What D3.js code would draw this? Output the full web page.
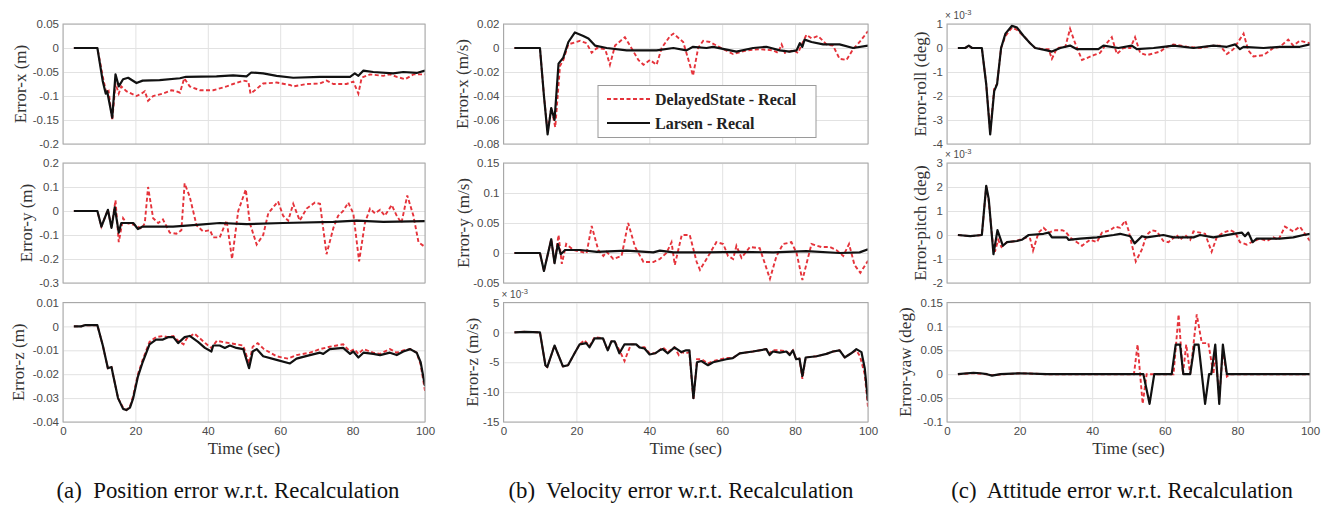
<!DOCTYPE html>
<html>
<head>
<meta charset="utf-8">
<script src="https://cdn.jsdelivr.net/npm/d3@7"></script>
<style>
  body { margin: 0; background: #fff; }
  svg { display: block; }
</style>
</head>
<body>
<svg id="chart" width="1327" height="505"></svg>
<script>
// ---- data: [time (sec), error] ----
const timeTicks = [0, 20, 40, 60, 80, 100];

// (a) position error (m)
const posXDelayed = [[3,0],[9.5,0],[11,-0.06],[12,-0.095],[12.6,-0.09],[13.6,-0.151],[14.5,-0.074],[15.4,-0.095],[16.1,-0.08],[17.5,-0.09],[20.3,-0.1],[21.7,-0.095],[22.6,-0.09],[23.5,-0.11],[24.9,-0.1],[27.6,-0.095],[30,-0.088],[31.3,-0.09],[32.3,-0.093],[33.5,-0.063],[35,-0.08],[37.8,-0.088],[41.5,-0.088],[45.2,-0.08],[47,-0.075],[49.8,-0.068],[51.2,-0.07],[51.8,-0.095],[53.5,-0.085],[55.3,-0.074],[59,-0.072],[62.7,-0.077],[63.6,-0.08],[67.3,-0.075],[71,-0.074],[72.8,-0.068],[74.7,-0.075],[78.3,-0.075],[80.2,-0.07],[81.6,-0.095],[82.5,-0.062],[84.8,-0.055],[88.5,-0.058],[90.3,-0.055],[92.2,-0.06],[94.5,-0.065],[96.8,-0.055],[100,-0.055]];
const posXLarsen = [[3,0],[9.5,0],[11,-0.07],[11.8,-0.095],[12.2,-0.09],[13.6,-0.145],[14.5,-0.055],[15.4,-0.08],[16.6,-0.065],[18,-0.062],[20.3,-0.073],[22,-0.068],[26.7,-0.067],[32.3,-0.063],[34,-0.06],[42.4,-0.059],[47,-0.057],[50.7,-0.059],[52,-0.051],[55.3,-0.053],[59,-0.058],[63.6,-0.062],[71,-0.06],[79.3,-0.06],[80.6,-0.053],[81.6,-0.058],[83,-0.047],[85.7,-0.05],[91.2,-0.053],[94,-0.05],[97.7,-0.052],[100,-0.047]];
const posYDelayed = [[3,0],[9.5,0],[10.6,-0.065],[12.4,0.005],[13.4,-0.07],[14.5,0.045],[15.4,-0.13],[16.6,-0.03],[17.5,-0.05],[20.3,-0.06],[21.7,-0.075],[22.6,-0.05],[23.5,0.1],[24.9,-0.03],[26.3,-0.05],[27.6,-0.035],[29.5,-0.09],[31.3,-0.095],[32.7,-0.08],[33.6,0.115],[35,0.06],[36.9,-0.06],[38.7,-0.085],[40.6,-0.08],[41.5,-0.11],[43.3,-0.11],[45.2,-0.04],[46.7,-0.2],[48.4,0],[50.5,0.09],[51.6,-0.05],[53.5,-0.14],[55.3,-0.1],[56.7,-0.01],[59.4,0.04],[60.8,-0.02],[62.2,-0.04],[63.6,0.03],[65.4,-0.04],[67.3,0.01],[69.6,0.035],[71,0.03],[72.8,-0.18],[74.7,-0.07],[76,-0.02],[77.4,0],[78.8,0.035],[80.2,-0.01],[81.8,-0.21],[83.4,-0.05],[84.8,0.01],[86.2,-0.01],[87.6,0.005],[88.9,-0.02],[90.8,0.025],[92.2,-0.02],[93.5,-0.05],[95.1,0.065],[96.8,-0.02],[98.2,-0.13],[100,-0.15]];
const posYLarsen = [[3,0],[9.5,0],[10.6,-0.065],[12.4,0.005],[13.4,-0.07],[14.3,0.015],[15.4,-0.09],[16.1,-0.05],[19.4,-0.05],[20.7,-0.075],[22,-0.065],[30.4,-0.065],[37.8,-0.057],[43.3,-0.05],[50.7,-0.055],[60.8,-0.05],[74.7,-0.045],[81.1,-0.04],[88.5,-0.045],[100,-0.042]];
const posZDelayed = [[3,0],[5,0],[6,0.0005],[9.5,0.0005],[11,-0.008],[12.4,-0.0175],[13.4,-0.017],[13.8,-0.02],[15.2,-0.03],[16.6,-0.034],[17.5,-0.035],[18.5,-0.0335],[19.4,-0.029],[20.7,-0.02],[22,-0.014],[23.9,-0.0065],[25.7,-0.0045],[27.6,-0.004],[29,-0.0045],[30.5,-0.004],[31.8,-0.006],[33.3,-0.0075],[34.2,-0.005],[36.3,-0.003],[37.8,-0.005],[39.7,-0.0075],[41,-0.009],[42.5,-0.006],[44,-0.0065],[46.1,-0.007],[47.9,-0.0075],[49.8,-0.008],[51.4,-0.0155],[52.4,-0.0085],[53.8,-0.007],[55.5,-0.0095],[59,-0.0125],[62.2,-0.0135],[64.5,-0.012],[68.2,-0.011],[71,-0.0095],[73.7,-0.0085],[77.4,-0.0075],[79.3,-0.0105],[80.5,-0.0095],[81.6,-0.0115],[83,-0.0095],[85.7,-0.011],[87.6,-0.0115],[90.3,-0.0095],[92.2,-0.011],[94,-0.01],[95.9,-0.0095],[97.7,-0.011],[98.8,-0.016],[100,-0.027]];
const posZLarsen = [[3,0],[5,0],[6,0.0005],[9.5,0.0005],[11,-0.008],[12.4,-0.0175],[13.4,-0.017],[13.8,-0.02],[15.2,-0.03],[16.6,-0.0345],[17.5,-0.035],[18.5,-0.034],[19.4,-0.03],[20.7,-0.021],[22,-0.015],[23.9,-0.0075],[25.7,-0.0055],[27.6,-0.0055],[29,-0.0045],[30.5,-0.0045],[31.8,-0.007],[33.6,-0.0045],[35,-0.004],[37.3,-0.0065],[39.2,-0.009],[41,-0.0105],[41.5,-0.008],[43.3,-0.008],[44.7,-0.009],[46.1,-0.008],[47.9,-0.009],[49.8,-0.0095],[51.4,-0.0175],[52.4,-0.0105],[53.5,-0.0095],[55.3,-0.0125],[59,-0.014],[62.7,-0.0155],[64.5,-0.0135],[68.2,-0.012],[71,-0.011],[71.9,-0.0115],[73.7,-0.0095],[77.4,-0.009],[79.3,-0.0115],[80.2,-0.0105],[81.6,-0.013],[83,-0.011],[85.7,-0.0115],[87.6,-0.012],[90.3,-0.011],[92.2,-0.012],[94,-0.0105],[95.9,-0.0095],[97.7,-0.011],[98.8,-0.015],[100,-0.025]];

// (b) velocity error (m/s); z in units of 1e-3 m/s
const velXDelayed = [[3,0],[10,0],[11.1,-0.04],[12.1,-0.07],[13.1,-0.05],[14.2,-0.066],[15.5,-0.015],[16.4,-0.01],[17.8,0.003],[21,0.006],[22.8,0.004],[24.2,-0.004],[25.6,0],[27.9,-0.001],[29.2,-0.014],[30.6,0.002],[33.3,0.009],[34.7,0.002],[37,-0.01],[38.4,-0.014],[40.2,-0.01],[42,-0.014],[43.4,0],[45.7,0.01],[46.6,0.012],[49.3,0.005],[52,-0.023],[53.4,0],[54.8,0.006],[56.6,0.005],[60.3,-0.001],[63,-0.005],[66.7,-0.002],[70.3,-0.001],[74,-0.002],[75.3,-0.004],[76.3,0.003],[77.2,-0.004],[79.5,-0.002],[80.8,-0.004],[81.7,0.002],[83.1,0.011],[84.5,0.008],[86.3,0.01],[88.6,0.003],[90.4,0.002],[92.2,-0.009],[94.1,-0.01],[95.9,-0.001],[97.7,0.005],[100,0.014]];
const velXLarsen = [[3,0],[10,0],[11.1,-0.04],[12.1,-0.072],[13.1,-0.05],[14,-0.06],[15.1,-0.013],[16.4,-0.008],[17.8,0.005],[19.6,0.013],[21.9,0.01],[23.3,0.008],[25.1,0.002],[28.3,0],[33.8,-0.002],[42,-0.002],[46.6,0],[50.2,-0.002],[52,0.001],[55.7,0],[57.5,0.001],[63.9,-0.003],[68.5,0],[72.1,0.001],[75.8,-0.002],[78.5,-0.003],[80.4,-0.002],[81.3,0.004],[82,0.001],[82.6,0.007],[84.5,0.005],[87.7,0.003],[92.2,0.003],[95.9,0],[100,0.002]];
const velYDelayed = [[3,0],[10,0],[11.1,-0.03],[13.1,0.023],[14,-0.017],[15.1,0.03],[16,-0.018],[17.2,0.015],[19.2,0.005],[22.8,0],[24.2,0.045],[26,0.005],[27.4,-0.005],[28.3,0.002],[30.1,-0.01],[32.4,-0.005],[34.2,0.05],[36.1,0.01],[38.4,-0.015],[41.1,-0.015],[42.9,-0.01],[44.7,0],[46.1,0.018],[47,-0.02],[48.9,0.03],[51.1,0.03],[53,-0.015],[53.9,-0.028],[55.7,-0.01],[58.4,0.018],[60.3,0.015],[61.6,-0.005],[63,-0.01],[63.9,0.012],[65.3,-0.008],[67.6,0.01],[70.3,0.008],[73.1,-0.043],[74.9,-0.005],[76.7,0.015],[79,0.018],[80.4,0],[82,-0.045],[84.5,0.015],[87.2,0.01],[89.5,0.01],[91.3,0.005],[93.2,-0.005],[94.8,0.015],[96.3,-0.02],[97.9,-0.033],[100,-0.013]];
const velYLarsen = [[3,0],[10,0],[11.1,-0.03],[13.1,0.023],[14,-0.017],[14.9,0.015],[15.7,-0.002],[16.9,0.005],[21,0.005],[25.6,0.002],[33.8,0.004],[41.1,0.001],[42.9,0.004],[46.6,0.001],[55.7,0.001],[64.8,0.002],[74,0.001],[83.1,0.003],[92.2,0],[97.7,0.001],[100,0.006]];
const velZDelayed = [[3,0],[6,0.1],[10,0],[11.5,-5.5],[12,-5.8],[14,-2.2],[16.3,-5.7],[17.7,-5.5],[19.5,-3.5],[20.9,-2],[22.2,-1.3],[23.6,-2.3],[25,-0.8],[27.3,-1],[28.6,-3],[29.6,-1.5],[30.5,-1.5],[31.8,-3],[33.2,-4.8],[34,-3.5],[35,-2],[36.4,-2],[37.3,-2.5],[38.7,-2.5],[40.1,-3.5],[41.6,-3.5],[42.8,-3],[43.7,-2.5],[45.1,-3.3],[46.9,-2.5],[48.1,-3.8],[48.8,-3.3],[50.1,-3.5],[51,-3.3],[52.1,-11.3],[53.1,-4.5],[54.3,-4.5],[56.1,-5.2],[57.5,-4.8],[61.1,-4.3],[62.9,-4.3],[64.8,-3.5],[68.4,-3.2],[72.1,-2.8],[73,-3.5],[73.9,-3],[75.8,-3],[77.6,-3.2],[78.5,-3.6],[79.4,-3],[80.3,-4.5],[81.2,-4.4],[82,-7.8],[82.9,-4.2],[85.9,-4],[88.6,-3.6],[90.4,-3.2],[92.2,-3],[93.6,-4.2],[95.4,-3.5],[96.8,-3],[97.8,-4],[99.1,-7],[100,-12.5]];
const velZLarsen = [[3,0],[6,0.1],[10,0],[11.5,-5.5],[12,-5.8],[14,-2.2],[16.3,-5.7],[17.7,-5.5],[19.5,-3.5],[20.9,-2],[22.7,-1.8],[23.6,-2.5],[25,-1],[27.3,-1],[28.6,-3],[29.6,-1.5],[30.5,-1.5],[31.8,-3.5],[33.2,-2],[36.4,-2],[37.3,-2.5],[38.7,-2.7],[40.1,-3.7],[41.6,-3.5],[42.8,-3],[43.7,-2.8],[45.1,-3.5],[46.9,-2.5],[48.8,-3.3],[50.1,-3],[51,-3],[52.1,-11],[53.1,-5],[54.3,-4.8],[56.1,-5.5],[57.5,-5],[61.1,-4.5],[62.9,-4.3],[64.8,-3.5],[68.4,-3.2],[72.1,-2.8],[73,-3.8],[73.9,-3.2],[75.8,-3.4],[77.6,-3.2],[78.5,-3.8],[79.4,-3],[80.3,-4.5],[81.2,-4.4],[82,-7.3],[82.9,-4.2],[85.9,-4],[88.6,-3.6],[90.4,-3.2],[92.2,-3],[93.6,-4.2],[95.4,-3.5],[96.8,-2.8],[98.2,-3.3],[99.1,-6],[100,-11.5]];

// (c) attitude error (deg); roll and pitch in units of 1e-3 deg
const rollDelayed = [[3,0],[5,0],[6,0.1],[6.9,0],[9.6,0],[10.8,-1.5],[11.9,-3.5],[13,-1.7],[13.8,-1.5],[14.9,0],[16.1,0.5],[17.9,0.85],[19.3,0.75],[21.1,0.5],[22.9,0.2],[24.3,0],[26.6,-0.05],[28,-0.05],[28.9,-0.45],[30.3,0],[32.6,0.05],[33.9,0.8],[35.3,0.2],[37.2,-0.5],[40.4,-0.3],[42.2,-0.2],[44,0.2],[45.4,0.45],[46.8,-0.25],[48.6,0],[50.5,0],[51.8,0.45],[53.2,-0.2],[55,-0.3],[58.7,-0.15],[60.6,0.05],[62.4,0.15],[66.1,0.05],[69.7,0],[73.4,0.1],[75.2,0.1],[77.1,-0.25],[78.9,-0.05],[81.7,0.6],[83,-0.1],[84.4,-0.35],[87.2,-0.3],[89.9,0],[91.7,0.05],[94,0.35],[95.4,0.1],[97.2,0.3],[100,0.2]];
const rollLarsen = [[3,0],[5,0],[6,0.1],[6.9,0],[9.6,0],[10.8,-1.5],[11.9,-3.6],[13,-1.8],[13.8,-1.5],[14.9,0],[16.1,0.6],[17.9,0.93],[19.3,0.85],[21.1,0.5],[22.9,0.2],[24.3,0],[27.5,-0.1],[28.9,-0.15],[31.2,0],[33.9,0.1],[35.8,-0.05],[41.7,-0.05],[43.1,0.1],[47.2,0],[50.9,0.1],[52.3,-0.05],[56.9,0],[59.6,0.05],[62.4,0.1],[67.9,0],[73.4,0.1],[77.1,0.05],[79.4,0.15],[80.7,-0.05],[81.7,0.05],[87.2,0],[91.7,0.05],[97.2,0.05],[100,0.15]];
const pitchDelayed = [[3,0],[6.4,-0.05],[9.6,0],[10.8,2],[11.5,1.4],[12.5,-0.2],[13.2,-0.7],[14.1,-0.2],[15,-0.5],[16.5,-0.3],[19,-0.25],[22,-0.1],[22.9,-0.15],[23.7,-0.65],[25.2,0.1],[26.6,0.3],[28,0.1],[29.8,0.2],[31.7,0.2],[32.6,0.15],[33.9,-0.1],[35.8,-0.3],[37.2,-0.45],[39.4,-0.2],[41.3,-0.3],[42.7,0.1],[45,0.2],[46.3,0.35],[47.7,0.3],[49.1,0.6],[50,0.2],[52,-1.1],[53.7,-0.6],[55,0],[56.4,0.2],[57.8,0.15],[59.6,-0.25],[61,-0.3],[63.3,0],[64.2,-0.2],[65.6,0],[67,-0.2],[67.9,0.15],[69.7,0.1],[71.1,0.05],[72.9,-0.7],[74.3,-0.1],[76.1,0.1],[78,0.2],[79.4,0.1],[80.7,-0.3],[82.6,-0.4],[83.9,-0.3],[86.2,-0.15],[88.1,-0.25],[89.9,-0.1],[91.3,-0.2],[93.1,0.35],[95.4,0.15],[97.2,0.35],[100,-0.25]];
const pitchLarsen = [[3,0],[6.4,-0.05],[9.6,0],[10.8,2.05],[11.5,1.5],[12.8,-0.8],[13.9,0.2],[15.4,-0.45],[16.5,-0.3],[19.3,-0.25],[20.6,-0.2],[22.5,0],[26.6,0.05],[28,0.1],[28.9,-0.1],[33,-0.1],[33.5,-0.2],[36.7,-0.15],[41.3,-0.1],[45.9,0],[47.7,0.05],[50.5,-0.05],[51.7,-0.35],[53.7,-0.05],[55,-0.1],[59.6,0],[62.4,-0.1],[67.9,-0.1],[69.7,0],[73.4,-0.1],[78.9,0.05],[81.2,0.1],[82.1,-0.05],[83,0.1],[84.2,-0.3],[85.3,-0.15],[91.7,-0.15],[95.4,-0.1],[98.2,0],[100,0.05]];
const yawDelayed = [[3,0],[7.3,0.002],[11,0],[12.4,-0.002],[20.2,0.002],[27.5,0],[51.5,0],[52.5,0.062],[53.9,-0.062],[55,0],[62.4,0],[63.8,0.125],[65,0],[65.9,0.062],[67,0],[68.8,0.125],[70.2,0.065],[72,0.065],[73.4,0],[73.9,0.05],[75,-0.05],[76,0.05],[77.1,-0.005],[78,0],[100,0]];
const yawLarsen = [[3,0],[7.3,0.003],[9.2,0.002],[11,0],[12.4,-0.003],[14.7,0],[20.2,0.002],[27.5,0],[54.1,0],[55.8,-0.062],[57.1,0],[61.9,0],[63,0.062],[64.2,0.062],[65.1,0],[67,0],[68.2,0.062],[69.3,0.062],[70.2,0],[71.1,-0.062],[72.2,0],[72.8,0],[73.9,0.062],[75,-0.062],[76,0.062],[77.1,0],[100,0]];

// y tick values per subplot
const ticksPosX = [-0.2, -0.15, -0.1, -0.05, 0, 0.05];
const ticksPosY = [-0.3, -0.2, -0.1, 0, 0.1, 0.2];
const ticksPosZ = [-0.04, -0.03, -0.02, -0.01, 0, 0.01];
const ticksVelX = [-0.08, -0.06, -0.04, -0.02, 0, 0.02];
const ticksVelY = [-0.05, 0, 0.05, 0.1, 0.15];
const ticksVelZ = [-15, -10, -5, 0, 5];
const ticksRoll = [-4, -3, -2, -1, 0, 1];
const ticksPitch = [-2, -1, 0, 1, 2, 3];
const ticksYaw = [-0.1, -0.05, 0, 0.05, 0.1, 0.15];

const legendLabels = ["DelayedState - Recal", "Larsen - Recal"];
const captions = ["(a)  Position error w.r.t. Recalculation", "(b)  Velocity error w.r.t. Recalculation", "(c)  Attitude error w.r.t. Recalculation"];

// ---- layout ----
const RED = "#e5333b";
const cols = [{x0: 63, x1: 425, cap: 228}, {x0: 503.5, x1: 868, cap: 681}, {x0: 947, x1: 1310, cap: 1122}];
const rows = [{y0: 24, y1: 144}, {y0: 163, y1: 283}, {y0: 302.5, y1: 422}];

const plots = [
    {c: 0, r: 0, label: "Error-x (m)", lx: 20, ticks: ticksPosX, red: posXDelayed, blk: posXLarsen},
    {c: 0, r: 1, label: "Error-y (m)", lx: 26, ticks: ticksPosY, red: posYDelayed, blk: posYLarsen},
    {c: 0, r: 2, label: "Error-z (m)", lx: 18, ticks: ticksPosZ, red: posZDelayed, blk: posZLarsen},
    {c: 1, r: 0, label: "Error-x (m/s)", lx: 462, ticks: ticksVelX, red: velXDelayed, blk: velXLarsen, legend: true},
    {c: 1, r: 1, label: "Error-y (m/s)", lx: 463, ticks: ticksVelY, red: velYDelayed, blk: velYLarsen},
    {c: 1, r: 2, label: "Error-z (m/s)", lx: 472, ticks: ticksVelZ, red: velZDelayed, blk: velZLarsen, exp: true},
    {c: 2, r: 0, label: "Error-roll (deg)", lx: 920, ticks: ticksRoll, red: rollDelayed, blk: rollLarsen, exp: true},
    {c: 2, r: 1, label: "Error-pitch (deg)", lx: 920, ticks: ticksPitch, red: pitchDelayed, blk: pitchLarsen, exp: true},
    {c: 2, r: 2, label: "Error-yaw (deg)", lx: 905, ticks: ticksYaw, red: yawDelayed, blk: yawLarsen}
];

const svg = d3.select("#chart");
const SANS = "'Liberation Sans', Arial, sans-serif";
const SERIF = "'Liberation Serif', 'Times New Roman', serif";

function fmt(v) {
    return String(+v.toFixed(6));
}

plots.forEach(function(p, i) {
    const col = cols[p.c], row = rows[p.r];
    const w = col.x1 - col.x0, h = row.y1 - row.y0;
    const x = d3.scaleLinear().domain([0, 100]).range([col.x0, col.x1]);
    const y = d3.scaleLinear().domain(d3.extent(p.ticks)).range([row.y1, row.y0]);
    const g = svg.append("g");

    // grid
    g.append("g")
        .attr("transform", `translate(0,${row.y1})`)
        .call(d3.axisBottom(x).tickValues(timeTicks).tickSize(-h).tickFormat(""))
        .call(a => { a.select(".domain").remove(); a.selectAll("line").attr("stroke", "#e2e2e2"); });
    g.append("g")
        .attr("transform", `translate(${col.x0},0)`)
        .call(d3.axisLeft(y).tickValues(p.ticks).tickSize(-w).tickFormat(""))
        .call(a => { a.select(".domain").remove(); a.selectAll("line").attr("stroke", "#e2e2e2"); });

    // lines
    g.append("clipPath").attr("id", "clip" + i)
        .append("rect").attr("x", col.x0).attr("y", row.y0).attr("width", w).attr("height", h);
    const line = d3.line().x(d => x(d[0])).y(d => y(d[1]));
    g.append("path").datum(p.red)
        .attr("clip-path", `url(#clip${i})`)
        .attr("fill", "none").attr("stroke", RED).attr("stroke-width", 1.9)
        .attr("stroke-dasharray", "4,2.5").attr("d", line);
    g.append("path").datum(p.blk)
        .attr("clip-path", `url(#clip${i})`)
        .attr("fill", "none").attr("stroke", "#111").attr("stroke-width", 2.2)
        .attr("stroke-linejoin", "round").attr("d", line);

    // box
    g.append("rect").attr("x", col.x0).attr("y", row.y0).attr("width", w).attr("height", h)
        .attr("fill", "none").attr("stroke", "#a8a8a8").attr("stroke-width", 1);

    // y tick labels
    g.append("g")
        .attr("transform", `translate(${col.x0},0)`)
        .call(d3.axisLeft(y).tickValues(p.ticks).tickSize(0).tickPadding(4).tickFormat(fmt))
        .call(a => {
            a.select(".domain").remove();
            a.selectAll("text").attr("font-family", SANS).attr("font-size", 11.5).attr("fill", "#4a4a4a");
        });

    // x tick labels on bottom row
    if (p.r === 2) {
        g.append("g")
            .attr("transform", `translate(0,${row.y1})`)
            .call(d3.axisBottom(x).tickValues(timeTicks).tickSize(0).tickPadding(5).tickFormat(fmt))
            .call(a => {
                a.select(".domain").remove();
                a.selectAll("text").attr("font-family", SANS).attr("font-size", 11.5).attr("fill", "#4a4a4a");
            });
        g.append("text")
            .attr("x", (col.x0 + col.x1) / 2).attr("y", 454)
            .attr("text-anchor", "middle")
            .attr("font-family", SERIF).attr("font-size", 17).attr("fill", "#333")
            .text("Time (sec)");
    }

    // y label
    g.append("text")
        .attr("transform", `translate(${p.lx},${(row.y0 + row.y1) / 2}) rotate(-90)`)
        .attr("dy", "0.35em")
        .attr("text-anchor", "middle")
        .attr("font-family", SERIF).attr("font-size", 17).attr("fill", "#333")
        .text(p.label);

    // exponent label
    if (p.exp) {
        const t = g.append("text")
            .attr("x", col.x0 - 2).attr("y", row.y0 - 5)
            .attr("font-family", SANS).attr("font-size", 10).attr("fill", "#4a4a4a");
        t.append("tspan").text("× 10");
        t.append("tspan").attr("dy", -4).attr("font-size", 7.5).text("-3");
    }

    // legend
    if (p.legend) {
        const lg = g.append("g");
        lg.append("rect").attr("x", 598).attr("y", 85.5).attr("width", 218).attr("height", 52)
            .attr("fill", "#fff").attr("stroke", "#9a9a9a").attr("stroke-width", 1);
        legendLabels.forEach(function(lab, k) {
            const ly = 99 + k * 24;
            lg.append("line").attr("x1", 607).attr("x2", 650).attr("y1", ly).attr("y2", ly)
                .attr("stroke", k === 0 ? RED : "#111").attr("stroke-width", k === 0 ? 1.9 : 2.2)
                .attr("stroke-dasharray", k === 0 ? "4,2.5" : null);
            lg.append("text").attr("x", 655).attr("y", ly).attr("dy", "0.35em")
                .attr("font-family", SERIF).attr("font-weight", "bold").attr("font-size", 16).attr("fill", "#222")
                .text(lab);
        });
    }
});

// captions
cols.forEach(function(col, k) {
    svg.append("text")
        .attr("x", col.cap).attr("y", 498)
        .attr("text-anchor", "middle")
        .attr("font-family", SERIF).attr("font-size", 22.8).attr("fill", "#111")
        .attr("xml:space", "preserve")
        .style("white-space", "pre")
        .text(captions[k]);
});
</script>
</body>
</html>
